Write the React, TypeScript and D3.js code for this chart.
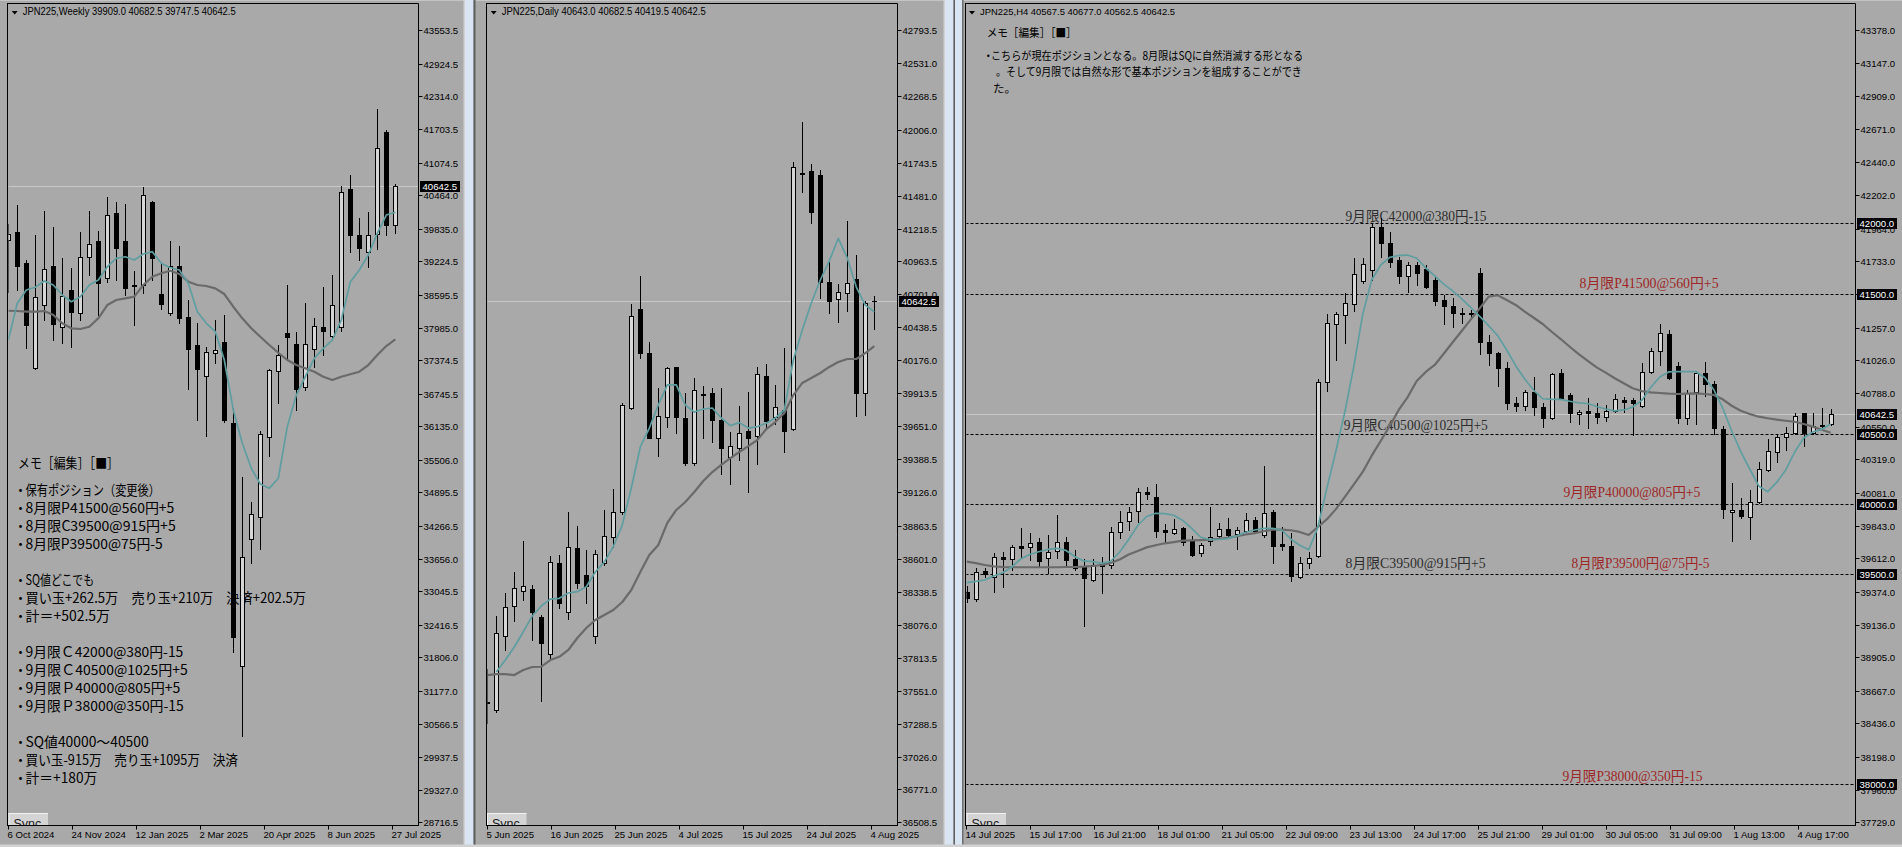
import React from 'react';
import * as d3 from 'd3';

type OHLC = [number, number, number, number]; // open, high, low, close

// ---------------- Weekly (JPN225, W1) ----------------
const weeklyHeader = 'JPN225,Weekly  39909.0 40682.5 39747.5 40642.5';
const weeklyTicks = [43553.5, 42924.5, 42314.0, 41703.5, 41074.5, 40464.0, 39835.0, 39224.5, 38595.5, 37985.0, 37374.5, 36745.5, 36135.0, 35506.0, 34895.5, 34266.5, 33656.0, 33045.5, 32416.5, 31806.0, 31177.0, 30566.5, 29937.5, 29327.0, 28716.5];
const weeklyDates = ['6 Oct 2024', '24 Nov 2024', '12 Jan 2025', '2 Mar 2025', '20 Apr 2025', '8 Jun 2025', '27 Jul 2025'];
const weeklyOHLC: OHLC[] = [
  [39619, 39925, 38656, 39732], [39769, 40281, 38688, 39143], [39188, 39250, 37607, 38033], [37221, 39719, 37202, 38551],
  [38407, 40168, 38126, 39082], [39144, 39863, 37752, 38046], [37989, 39288, 37695, 38576], [38688, 39095, 37626, 38281],
  [38252, 39780, 38126, 39301], [39312, 40174, 38969, 39544], [39612, 39799, 38220, 38814], [38907, 40436, 38838, 40088],
  [40131, 40342, 38876, 39481], [39606, 40300, 38595, 38720], [38790, 39044, 38032, 38760], [38782, 40618, 38632, 40468],
  [40343, 40356, 38876, 39293], [38613, 39188, 38327, 38420], [38252, 39606, 38220, 39138], [39144, 39513, 38064, 38158],
  [38177, 38501, 36828, 37577], [37658, 38064, 36253, 37203], [37083, 37626, 35959, 37532], [37502, 38126, 37326, 37564],
  [37720, 38220, 36215, 36253], [36191, 36472, 31912, 32193], [31650, 35191, 30339, 33692], [34018, 34723, 33568, 34487],
  [34441, 36052, 33831, 35991], [35929, 37202, 35584, 37190], [37171, 37658, 36566, 37471], [37877, 38782, 37409, 37802],
  [37677, 37907, 36440, 36828], [36866, 38450, 36815, 37677], [37577, 38169, 37240, 38014], [37989, 38750, 37470, 37926],
  [37832, 38969, 37783, 38407], [37989, 40637, 37926, 40519], [40581, 40843, 39406, 39719], [39719, 40032, 39250, 39481],
  [39406, 40155, 39125, 39719], [39732, 42079, 39451, 41343], [41643, 41686, 39719, 39906], [39909, 40682.5, 39747.5, 40642.5],
];
const weeklyFastMA = [37751, 38439, 38688, 38739, 38857, 38782, 38595, 38469, 38563, 38782, 38876, 39125, 39282, 39312, 39250, 39363, 39406, 39188, 39106, 39063, 38814, 38282, 38064, 37907, 37377, 36440, 35816, 35348, 35054, 34973, 35161, 36127, 36721, 37064, 37409, 37596, 37751, 38126, 38838, 39063, 39344, 39750, 40093, 40144];
const weeklySlowMA = [38300, 38295, 38282, 38282, 38295, 38220, 38064, 37971, 37958, 38001, 38158, 38407, 38501, 38533, 38563, 38782, 38937, 39001, 39050, 38988, 38844, 38782, 38763, 38720, 38613, 38375, 38158, 37971, 37813, 37658, 37513, 37377, 37283, 37221, 37158, 37064, 37002, 37064, 37109, 37158, 37283, 37470, 37639, 37765];
const weeklyBoxes = [40642.5];

// ---------------- Daily (JPN225, D1) ----------------
const dailyHeader = 'JPN225,Daily  40643.0 40682.5 40419.5 40642.5';
const dailyTicks = [42793.5, 42531.0, 42268.5, 42006.0, 41743.5, 41481.0, 41218.5, 40963.5, 40701.0, 40438.5, 40176.0, 39913.5, 39651.0, 39388.5, 39126.0, 38863.5, 38601.0, 38338.5, 38076.0, 37813.5, 37551.0, 37288.5, 37026.0, 36771.0, 36508.5];
const dailyDates = ['5 Jun 2025', '16 Jun 2025', '25 Jun 2025', '4 Jul 2025', '15 Jul 2025', '24 Jul 2025', '4 Aug 2025'];
const dailyOHLC: OHLC[] = [
  [37465, 37723, 37299, 37453], [37400, 38146, 37386, 38008], [37989, 38331, 37876, 38220], [38227, 38497, 38108, 38365],
  [38346, 38741, 38273, 38384], [38357, 38391, 37955, 38180], [38135, 38154, 37473, 37934], [37842, 38622, 37802, 38577],
  [38564, 38630, 38207, 38251], [38175, 38973, 38122, 38691], [38683, 38860, 38370, 38405], [38471, 38669, 38246, 38386],
  [37989, 38669, 37934, 38635], [38564, 38987, 38550, 38783], [38775, 39151, 38696, 38968], [38968, 39833, 38953, 39820],
  [39794, 40621, 39785, 40526], [40580, 40844, 40195, 40230], [40230, 40322, 39556, 39561], [39556, 39953, 39418, 39735],
  [39727, 40119, 39648, 40111], [40119, 40125, 39600, 39727], [39715, 39913, 39344, 39357], [39357, 40032, 39344, 39939],
  [39905, 39971, 39561, 39899], [39918, 39953, 39529, 39701], [39701, 39953, 39270, 39481], [39405, 39603, 39191, 39497],
  [39476, 39814, 39384, 39595], [39616, 39921, 39132, 39561], [39574, 40119, 39352, 40064], [40050, 40143, 39627, 39695],
  [39727, 39979, 39669, 39807], [39780, 40270, 39449, 39616], [39630, 41746, 39622, 41706], [41665, 42063, 41513, 41655],
  [41677, 41733, 41267, 41349], [41645, 41685, 40667, 40798], [40798, 40957, 40552, 40648], [40659, 40780, 40481, 40714],
  [40706, 41282, 40566, 40786], [40820, 41010, 39735, 39918], [39913, 40645, 39741, 40627], [40643, 40682.5, 40419.5, 40642.5],
];
const dailyFastMA: (number | null)[] = [null, 37701, 37796, 37900, 38021, 38146, 38225, 38280, 38286, 38328, 38339, 38378, 38495, 38574, 38696, 38868, 39161, 39487, 39637, 39820, 39979, 39979, 39820, 39764, 39788, 39796, 39717, 39656, 39680, 39637, 39648, 39675, 39717, 39780, 40177, 40415, 40629, 40812, 40963, 41143, 40986, 40756, 40613, 40560];
const dailySlowMA = [37677, 37685, 37685, 37677, 37717, 37741, 37743, 37796, 37822, 37876, 37971, 38050, 38114, 38154, 38193, 38257, 38352, 38495, 38630, 38709, 38884, 38987, 39050, 39130, 39217, 39288, 39344, 39399, 39447, 39494, 39542, 39629, 39685, 39756, 39899, 39995, 40034, 40074, 40122, 40161, 40185, 40185, 40232, 40288];
const dailyBoxes = [40642.5];

// ---------------- H4 (JPN225, H4) ----------------
const h4Header = 'JPN225,H4  40567.5 40677.0 40562.5 40642.5';
const h4Ticks = [43378.0, 43147.0, 42909.0, 42671.0, 42440.0, 42202.0, 41964.0, 41733.0, 41495.0, 41257.0, 41026.0, 40788.0, 40550.0, 40319.0, 40081.0, 39843.0, 39612.0, 39374.0, 39136.0, 38905.0, 38667.0, 38436.0, 38198.0, 37960.0, 37729.0];
const h4Dates = ['14 Jul 2025', '15 Jul 17:00', '16 Jul 21:00', '18 Jul 01:00', '21 Jul 05:00', '22 Jul 09:00', '23 Jul 13:00', '24 Jul 17:00', '25 Jul 21:00', '29 Jul 01:00', '30 Jul 05:00', '31 Jul 09:00', '1 Aug 13:00', '4 Aug 17:00'];
const h4OHLC: OHLC[] = [
  [39374, 39414, 39300, 39326], [39319, 39543, 39310, 39516], [39522, 39541, 39481, 39498], [39481, 39648, 39374, 39623],
  [39623, 39659, 39409, 39605], [39605, 39707, 39529, 39695], [39700, 39826, 39612, 39688], [39695, 39790, 39600, 39723],
  [39726, 39755, 39552, 39593], [39616, 39778, 39505, 39659], [39666, 39921, 39612, 39726], [39726, 39766, 39552, 39600],
  [39607, 39671, 39529, 39541], [39552, 39605, 39131, 39469], [39457, 39605, 39450, 39564], [39576, 39623, 39362, 39559],
  [39564, 39833, 39541, 39802], [39802, 39951, 39755, 39873], [39878, 39976, 39814, 39940], [39949, 40111, 39869, 40083],
  [40083, 40118, 40035, 40068], [40047, 40142, 39762, 39809], [39814, 39857, 39731, 39797], [39790, 39892, 39785, 39819],
  [39826, 39835, 39707, 39730], [39743, 39771, 39628, 39636], [39648, 39719, 39628, 39707], [39735, 39976, 39707, 39766],
  [39773, 39861, 39755, 39819], [39819, 39901, 39766, 39778], [39783, 39833, 39676, 39814], [39809, 39933, 39797, 39885],
  [39885, 39904, 39797, 39809], [39778, 40270, 39766, 39933], [39944, 39957, 39581, 39702], [39712, 39833, 39671, 39702],
  [39702, 39790, 39452, 39486], [39481, 39623, 39469, 39581], [39581, 39659, 39541, 39616], [39628, 40889, 39623, 40872],
  [40872, 41355, 40807, 41288], [41283, 41367, 41026, 41352], [41347, 41502, 41145, 41431], [41426, 41752, 41378, 41640],
  [41590, 41752, 41573, 41709], [41668, 41996, 41597, 41973], [41973, 42037, 41763, 41863], [41863, 41942, 41692, 41728],
  [41740, 41763, 41573, 41626], [41626, 41728, 41513, 41704], [41704, 41728, 41561, 41649], [41673, 41704, 41540, 41549],
  [41597, 41618, 41419, 41449], [41454, 41490, 41281, 41414], [41412, 41466, 41264, 41359], [41362, 41395, 41292, 41358],
  [41365, 41383, 41335, 41355], [41645, 41681, 41069, 41157], [41157, 41205, 40991, 41074], [41078, 41086, 40841, 40967],
  [40967, 41014, 40675, 40718], [40722, 40765, 40665, 40700], [40700, 40812, 40670, 40796], [40796, 40903, 40634, 40693],
  [40693, 40722, 40551, 40611], [40611, 40932, 40604, 40927], [40932, 40960, 40746, 40753], [40777, 40789, 40586, 40646],
  [40639, 40670, 40570, 40653], [40663, 40753, 40544, 40646], [40646, 40722, 40579, 40618], [40618, 40705, 40591, 40663],
  [40663, 40782, 40653, 40748], [40741, 40765, 40658, 40729], [40741, 40753, 40492, 40718], [40700, 41003, 40689, 40939],
  [40939, 41110, 40932, 41091], [41093, 41283, 40991, 41217], [41212, 41240, 40889, 40900], [40984, 41014, 40579, 40611],
  [40611, 40812, 40570, 40789], [40796, 40950, 40570, 40932], [40932, 41010, 40772, 40853], [40853, 40877, 40496, 40539],
  [40532, 40556, 39902, 39964], [39940, 40147, 39738, 39957], [39957, 40040, 39897, 39916], [39909, 40099, 39748, 40012],
  [40016, 40301, 40009, 40247], [40242, 40461, 40237, 40380], [40372, 40496, 40301, 40479], [40479, 40551, 40384, 40508],
  [40503, 40650, 40499, 40627], [40646, 40650, 40415, 40503], [40503, 40650, 40496, 40558], [40558, 40682, 40550, 40563],
  [40567.5, 40677.0, 40562.5, 40642.5],
];
const h4FastMA = [39438, 39447, 39457, 39486, 39509, 39550, 39607, 39639, 39659, 39675, 39683, 39669, 39625, 39593, 39588, 39576, 39591, 39657, 39746, 39846, 39910, 39933, 39931, 39919, 39882, 39826, 39762, 39745, 39746, 39752, 39772, 39798, 39814, 39826, 39826, 39814, 39750, 39705, 39673, 39828, 40106, 40370, 40652, 40976, 41352, 41597, 41704, 41758, 41772, 41775, 41752, 41683, 41626, 41568, 41519, 41462, 41401, 41337, 41271, 41200, 41098, 40986, 40891, 40810, 40750, 40746, 40745, 40732, 40720, 40716, 40695, 40677, 40663, 40670, 40691, 40738, 40830, 40905, 40941, 40943, 40944, 40944, 40901, 40816, 40684, 40520, 40374, 40249, 40128, 40087, 40153, 40242, 40370, 40470, 40513, 40532, 40570];
const h4SlowMA = [39588, 39578, 39564, 39555, 39550, 39548, 39548, 39548, 39548, 39548, 39548, 39550, 39550, 39552, 39557, 39564, 39578, 39603, 39639, 39664, 39690, 39705, 39719, 39728, 39738, 39740, 39742, 39745, 39750, 39758, 39769, 39782, 39792, 39805, 39816, 39817, 39812, 39800, 39778, 39835, 39889, 39961, 40049, 40138, 40228, 40344, 40449, 40556, 40670, 40762, 40877, 40941, 40991, 41071, 41153, 41233, 41314, 41395, 41478, 41488, 41454, 41419, 41371, 41328, 41283, 41228, 41176, 41121, 41069, 41021, 40974, 40936, 40896, 40860, 40825, 40805, 40796, 40791, 40786, 40784, 40786, 40789, 40784, 40777, 40746, 40700, 40665, 40641, 40622, 40611, 40601, 40593, 40586, 40570, 40551, 40529, 40508];
const h4Levels = [42000, 41500, 40500, 40000, 39500, 38000];
const h4Boxes = [42000, 41500, 40642.5, 40500, 40000, 39500, 38000];
const h4Notes = ['9月限C42000@380円-15', '8月限P41500@560円+5', '9月限C40500@1025円+5', '9月限P40000@805円+5', '8月限C39500@915円+5', '8月限P39500円@75円-5', '9月限P38000@350円-15'];
const h4NoteLevel = [42000, 41500, 40500, 40000, 39500, 39500, 38000];
const h4NoteBar = [42.1, 68.1, 41.9, 66.3, 42.1, 67.2, 66.2];
const currentPrice = 40642.5;

// memo texts
const memoTitle = 'メモ［編集］［■］';
const memo1Lines = [
  '保有ポジション（変更後）', '8月限P41500@560円+5', '8月限C39500@915円+5', '8月限P39500@75円-5', '',
  'SQ値どこでも', '買い玉+262.5万　売り玉+210万　決済+202.5万', '計＝+502.5万', '',
  '9月限Ｃ42000@380円-15', '9月限Ｃ40500@1025円+5', '9月限Ｐ40000@805円+5', '9月限Ｐ38000@350円-15', '',
  'SQ値40000～40500', '買い玉-915万　売り玉+1095万　決済', '計＝+180万',
];
const memo3Lines = ['こちらが現在ポジションとなる。8月限はSQに自然消滅する形となる', '。そして9月限では自然な形で基本ポジションを組成することができ', 'た。'];

// ---------------- layout / style ----------------
const memo1End = [160, 174.3, 175.7, 162.7, 0, 94, 306, 110, 0, 183.3, 187.7, 180.3, 183.7, 0, 148.7, 238, 97.3];
const noteOffset = [2.5, 6, 4, 7, 6, 6, 3];
const noteWidth = [141, 139, 144, 137, 140, 138, 140];
const noteColor = ['#2e2e2e', '#9e2626', '#2e2e2e', '#9e2626', '#2e2e2e', '#9e2626', '#9e2626'];

const SANS = '"Liberation Sans", Arial, sans-serif';
const JP = '"Noto Sans CJK JP", "Noto Sans CJK SC", sans-serif';
const SERIF = '"Liberation Serif", "Noto Sans CJK JP", serif';
const BG = '#a9a9a9';
const BULL = '#d6d6d6';
const TEAL = '#5f9ea0';
const SLOW = '#6a6a6a';

type Scale = d3.ScaleLinear<number, number>;
interface Cfg {
  id: string;
  left: number; right: number;
  ticks: number[];
  candles: OHLC[];
  fast: (number | null)[];
  slow: (number | null)[];
  x0: number;
  dates: string[];
  d0: number;
  header: string; headerX: number; headerW: number; headerSize: number;
  boxes: number[];
  syncX: number;
  under?: (xs: Scale, ys: Scale) => React.ReactNode;
}

const TOP = 3.5;
const BOTTOM = 825.5;

function renderPanel(c: Cfg) {
  const ys = d3.scaleLinear().domain([c.ticks[c.ticks.length - 1], c.ticks[0]]).range([822.3, 30.3]);
  const n = c.candles.length;
  const xs = d3.scaleLinear().domain([0, n - 1]).range([c.x0, c.x0 + 9 * (n - 1)]);
  const xd = d3.scaleLinear().domain([0, c.dates.length - 1]).range([c.d0, c.d0 + 64 * (c.dates.length - 1)]);
  const ma = d3.line<number | null>().defined((v) => v != null).x((_, i) => xs(i)).y((v) => ys(v as number));
  const clipId = 'clip-' + c.id;
  const fmt = d3.format('.1f');
  const py = Math.round(ys(currentPrice)) + 0.5;
  return (
    <g key={c.id}>
      <defs>
        <clipPath id={clipId}>
          <rect x={c.left + 1} y={TOP + 0.5} width={c.right - c.left - 1} height={BOTTOM - TOP - 1} />
        </clipPath>
        <clipPath id={clipId + '-sync'}>
          <rect x={c.left} y={TOP} width={c.right - c.left} height={BOTTOM - 0.5 - TOP} />
        </clipPath>
      </defs>
      <g clipPath={`url(#${clipId})`}>
        <line x1={c.left} x2={c.right} y1={py} y2={py} stroke="#c9c9c9" strokeWidth={1} />
        {c.under ? c.under(xs, ys) : null}
        {c.candles.map(([o, h, l, cl], i) => {
          const cx = Math.round(xs(i));
          const yo = Math.round(ys(o));
          const yc = Math.round(ys(cl));
          const yh = Math.round(ys(h));
          const yl = Math.round(ys(l));
          const t = Math.min(yo, yc);
          const b = Math.max(yo, yc);
          const bull = cl >= o;
          return (
            <g key={i}>
              <line x1={cx + 0.5} x2={cx + 0.5} y1={yh} y2={yl + 1} stroke="#000" strokeWidth={1} />
              {b - t < 1 ? (
                <line x1={cx - 2} x2={cx + 3} y1={t + 0.5} y2={t + 0.5} stroke="#000" strokeWidth={1} />
              ) : (
                <rect x={cx - 1.5} y={t + 0.5} width={4} height={b - t} fill={bull ? BULL : '#000'} stroke="#000" strokeWidth={1} />
              )}
            </g>
          );
        })}
        <path d={ma(c.slow) || ''} fill="none" stroke={SLOW} strokeWidth={2.2} strokeLinejoin="round" />
        <path d={ma(c.fast) || ''} fill="none" stroke={TEAL} strokeWidth={1.7} strokeLinejoin="round" />
      </g>
      {/* frame */}
      <line x1={c.left - 0.5} x2={c.right} y1={TOP} y2={TOP} stroke="#000" />
      <line x1={c.left} x2={c.left} y1={TOP} y2={BOTTOM} stroke="#000" />
      <line x1={c.right} x2={c.right} y1={TOP} y2={BOTTOM} stroke="#000" />
      <line x1={c.left - 0.5} x2={c.right + 0.5} y1={BOTTOM} y2={BOTTOM} stroke="#000" />
      {/* header */}
      <path d={`M${c.headerX - 11},${11} L${c.headerX - 5},${11} L${c.headerX - 8},${14.5} Z`} fill="#000" />
      <text x={c.headerX} y={15} fontFamily={SANS} fontSize={c.headerSize} fill="#000" textLength={c.headerW} lengthAdjust="spacingAndGlyphs">
        {c.header}
      </text>
      {/* y axis */}
      {c.ticks.map((v, i) => {
        const y = Math.round(ys(v)) + 0.5;
        return (
          <g key={'t' + i}>
            <line x1={c.right} x2={c.right + 4} y1={y} y2={y} stroke="#000" />
            <text x={c.right + 5} y={y + 3.6} fontFamily={SANS} fontSize={9.6} fill="#000">{fmt(v)}</text>
          </g>
        );
      })}
      {c.boxes.map((v, i) => {
        const y = Math.round(ys(v)) + 0.5;
        return (
          <g key={'b' + i}>
            <rect x={c.right + 1.5} y={y - 5.5} width={40} height={11} fill="#000" />
            <text x={c.right + 4} y={y + 3.6} fontFamily={SANS} fontSize={9.6} fill="#fff">{fmt(v)}</text>
          </g>
        );
      })}
      {/* x axis */}
      {c.dates.map((d, i) => {
        const x = Math.round(xd(i)) + 0.5;
        return (
          <g key={'d' + i}>
            <line x1={x} x2={x} y1={BOTTOM} y2={BOTTOM + 4} stroke="#000" />
            <text x={x - 1} y={837.5} fontFamily={SANS} fontSize={9.6} fill="#000">{d}</text>
          </g>
        );
      })}
      {/* sync button */}
      <g clipPath={`url(#${clipId}-sync)`}>
        <rect x={c.syncX} y={813} width={39.5} height={14} fill="#d4d4d4" />
        <line x1={c.syncX} x2={c.syncX + 39.5} y1={813.5} y2={813.5} stroke="#f2f2f2" />
        <line x1={c.syncX + 0.5} x2={c.syncX + 0.5} y1={813} y2={826} stroke="#f2f2f2" />
        <text x={c.syncX + 5} y={828} fontFamily={SANS} fontSize={12.5} fill="#222">Sync</text>
      </g>
    </g>
  );
}

export default function App() {
  const weekly: Cfg = {
    id: 'w', left: 7.5, right: 418.5, ticks: weeklyTicks, candles: weeklyOHLC, fast: weeklyFastMA, slow: weeklySlowMA,
    x0: 8.3, dates: weeklyDates, d0: 7.7, header: weeklyHeader, headerX: 22.7, headerW: 213, headerSize: 10.5,
    boxes: weeklyBoxes, syncX: 8.5,
    under: () => (
      <g fontFamily={JP} fill="#000">
        <text x={18} y={468} fontSize={13.5} textLength={101} lengthAdjust="spacingAndGlyphs">{memoTitle}</text>
        {memo1Lines.map((t, i) =>
          t ? (
            <g key={i}>
              <text x={13.6} y={494.5 + 18 * i} fontSize={14}>・</text>
              <text x={25.5} y={494.5 + 18 * i} fontSize={14} textLength={memo1End[i] - 25.5} lengthAdjust="spacingAndGlyphs">{t}</text>
            </g>
          ) : null
        )}
      </g>
    ),
  };
  const daily: Cfg = {
    id: 'd', left: 486.5, right: 897.5, ticks: dailyTicks, candles: dailyOHLC, fast: dailyFastMA, slow: dailySlowMA,
    x0: 487.3, dates: dailyDates, d0: 487.3, header: dailyHeader, headerX: 501.7, headerW: 204, headerSize: 10.5,
    boxes: dailyBoxes, syncX: 487,
  };
  const h4: Cfg = {
    id: 'h', left: 965.5, right: 1855.5, ticks: h4Ticks, candles: h4OHLC, fast: h4FastMA, slow: h4SlowMA,
    x0: 966.7, dates: h4Dates, d0: 966, header: h4Header, headerX: 980, headerW: 195, headerSize: 9.8,
    boxes: h4Boxes, syncX: 966.5,
    under: (xs, ys) => (
      <g>
        {h4Levels.map((v, i) => {
          const y = Math.round(ys(v)) + 0.5;
          return <line key={'l' + i} x1={965.5} x2={1855.5} y1={y} y2={y} stroke="#000" strokeDasharray="3,2" />;
        })}
        {h4Notes.map((t, i) => (
          <text key={'n' + i} x={xs(h4NoteBar[i])} y={ys(h4NoteLevel[i]) - noteOffset[i]} fontFamily={SERIF} fontSize={14}
            fill={noteColor[i]} textLength={noteWidth[i]} lengthAdjust="spacingAndGlyphs">{t}</text>
        ))}
        <g fontFamily={JP} fill="#000">
          <text x={986.7} y={37} fontSize={11.5} textLength={90} lengthAdjust="spacingAndGlyphs">{memoTitle}</text>
          <text x={982.6} y={59.5} fontSize={11.5}>・</text>
          <text x={991} y={59.5} fontSize={11.5} textLength={312} lengthAdjust="spacingAndGlyphs">{memo3Lines[0]}</text>
          <text x={996} y={76} fontSize={11.5} textLength={305.7} lengthAdjust="spacingAndGlyphs">{memo3Lines[1]}</text>
          <text x={993} y={92.5} fontSize={11.5}>{memo3Lines[2]}</text>
        </g>
      </g>
    ),
  };

  return (
    <svg width={1902} height={847} style={{ position: 'absolute', left: 0, top: 0, display: 'block' }}>
      <rect x={0} y={0} width={1902} height={847} fill={BG} />
      <line x1={0} x2={1902} y1={0.5} y2={0.5} stroke="#c4c4c4" />
      {renderPanel(weekly)}
      {renderPanel(daily)}
      {renderPanel(h4)}
      {/* window separators */}
      <rect x={463.5} y={0} width={1.5} height={847} fill="#d2d2d2" />
      <rect x={465} y={0} width={8.5} height={847} fill="#d9e5f3" />
      <rect x={473.5} y={0} width={2} height={847} fill="#5e5e5e" />
      <rect x={943.5} y={0} width={1.5} height={847} fill="#d2d2d2" />
      <rect x={945} y={0} width={8.5} height={847} fill="#d9e5f3" />
      <rect x={953.5} y={0} width={1.5} height={847} fill="#5e5e5e" />
      <rect x={955} y={0} width={7} height={847} fill="#d9e5f3" />
      <rect x={962} y={0} width={1.5} height={847} fill="#6e6e6e" />
      <rect x={0} y={844.5} width={1902} height={2.5} fill="#d2d2d2" />
    </svg>
  );
}
